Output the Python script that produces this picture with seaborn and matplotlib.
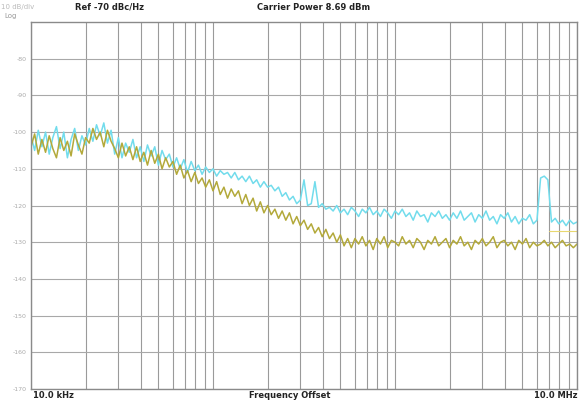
import matplotlib
matplotlib.use("Agg")
import matplotlib.pyplot as plt
import seaborn as sns
import pandas as pd

# ---------------- data ----------------
freq_khz = [
    10.0, 10.47, 10.96, 11.48, 12.02, 12.59, 13.18, 13.80, 14.45, 15.14,
    15.85, 16.60, 17.38, 18.20, 19.05, 19.95, 20.89, 21.88, 22.91, 23.99,
    25.12, 26.30, 27.54, 28.84, 30.20, 31.62, 33.11, 34.67, 36.31, 38.02,
    39.81, 41.69, 43.65, 45.71, 47.86, 50.12, 52.48, 54.95, 57.54, 60.26,
    63.10, 66.07, 69.18, 72.44, 75.86, 79.43, 83.18, 87.10, 91.20, 95.50,
    100.0, 104.7, 109.6, 114.8, 120.2, 125.9, 131.8, 138.0, 144.5, 151.4,
    158.5, 166.0, 173.8, 182.0, 190.5, 199.5, 208.9, 218.8, 229.1, 239.9,
    251.2, 263.0, 275.4, 288.4, 302.0, 316.2, 331.1, 346.7, 363.1, 380.2,
    398.1, 416.9, 436.5, 457.1, 478.6, 501.2, 524.8, 549.5, 575.4, 602.6,
    631.0, 660.7, 691.8, 724.4, 758.6, 794.3, 831.8, 871.0, 912.0, 955.0,
    1000, 1047, 1096, 1148, 1202, 1259, 1318, 1380, 1445, 1514,
    1585, 1660, 1738, 1820, 1905, 1995, 2089, 2188, 2291, 2399,
    2512, 2630, 2754, 2884, 3020, 3162, 3311, 3467, 3631, 3802,
    3981, 4169, 4365, 4571, 4786, 5012, 5248, 5495, 5754, 6026,
    6310, 6607, 6918, 7244, 7586, 7943, 8318, 8710, 9120, 9550,
    10000,
]

trace_cyan = [
    -101, -105, -99.5, -104, -100, -106, -101.5, -98.5, -104.5, -100,
    -107, -102, -99, -105, -101, -103.5, -99, -102.5, -98, -101,
    -97.5, -103, -99.5, -106, -101.5, -107, -103, -105.5, -102, -107,
    -104, -108, -103.5, -106.5, -104, -109, -105, -107.5, -106, -109.5,
    -107, -110, -107.5, -111, -108, -110.5, -109, -111.5, -109.5, -111,
    -110, -112, -110.5, -111.5, -111, -112.5, -111, -113, -112, -113.5,
    -112, -114, -113, -115, -113.5, -115, -114.5, -116, -115, -117.5,
    -116.5, -118.5, -117.5, -119.5, -118.5, -113, -120, -119.5, -113.5, -120.5,
    -119.5, -121, -120.5, -121.5, -120, -122, -121, -122.5, -120.5, -121.5,
    -123, -121, -122, -120.5, -122.5, -121.5, -123, -121, -122, -123.5,
    -121.5, -122.5, -121, -123, -122, -124, -121.5, -123, -122.5, -124.5,
    -122, -123, -121.5, -123.5, -122.5, -124, -122, -123.5, -121.5, -124,
    -123, -122, -124.5, -122.5, -123.5, -121.5, -124, -123, -125, -122.5,
    -123.5, -122, -124.5, -123, -125, -123.5, -124, -122.5, -125, -124,
    -112.5, -112, -113, -124.5, -123.5, -125, -124, -125.5, -124, -125,
    -124.5,
]

trace_olive = [
    -104, -100.5, -106, -102, -105.5, -101, -104.5, -107, -101.5, -105,
    -102.5, -106.5, -100.5, -103.5, -106, -101.5, -103, -99, -102, -100,
    -104, -99.5, -102.5, -104.5, -107, -103, -106.5, -104, -107.5, -104,
    -108, -105.5, -109, -105, -108.5, -106, -110, -107, -109.5, -108,
    -111.5, -109, -112.5, -110.5, -113.5, -111, -114, -112.5, -115, -113,
    -116, -113.5, -117, -115, -118, -115.5, -117.5, -116, -119.5, -117,
    -120, -118, -121.5, -119, -122, -120, -122.5, -121, -123.5, -121.5,
    -124, -122, -125, -123, -125.5, -124, -126.5, -125, -127.5, -126,
    -128.5, -126.5, -129, -127.5, -130, -128, -131, -129, -131.5, -129,
    -130.5, -128.5, -131, -129.5, -132, -129, -130.5, -128.5, -131.5, -129.5,
    -130, -131, -128.5, -130.5, -129.5, -131.5, -129, -130, -132, -129.5,
    -130.5, -128.5, -131, -130, -129, -131.5, -129.5, -130.5, -128.5, -131,
    -130, -132, -129.5, -130.5, -129, -131, -130, -128.5, -131.5, -130,
    -129.5, -131, -130, -132, -129.5, -130.5, -129, -131.5, -130, -131,
    -130.5, -129.5, -131, -130, -131.5, -130.5, -129.5, -131, -130.5, -131.5,
    -130.5,
]

display_line_level = -127
display_line_khz = [7000, 10000]

y_ticks = [-80, -90, -100, -110, -120, -130, -140, -150, -160, -170]
y_min, y_max = -170, -70
x_min, x_max = 10, 10000

df = pd.DataFrame({
    "freq": freq_khz * 2,
    "level": trace_cyan + trace_olive,
    "trace": ["cyan"] * len(freq_khz) + ["olive"] * len(freq_khz),
})

# ---------------- figure ----------------
sns.set_style("white")
plt.rcParams["font.family"] = ["DejaVu Sans"]

W, H = 579, 403
fig = plt.figure(figsize=(W / 100, H / 100), dpi=100)
ax = fig.add_axes([31 / W, 1 - 389 / H, (577 - 31) / W, (389 - 22) / H])

sns.lineplot(data=df, x="freq", y="level", hue="trace",
             palette={"cyan": "#72dcec", "olive": "#b3a93a"},
             linewidth=1.1, ax=ax, legend=False, estimator=None, sort=False)
ax.plot(display_line_khz, [display_line_level] * 2, color="#e8d870", lw=0.8)

ax.set_xscale("log")
ax.set_xlim(x_min, x_max)
ax.set_ylim(y_min, y_max)
ax.set_yticks(y_ticks)
ax.set_yticklabels([str(t) for t in y_ticks], fontsize=4.5, color="#aaaaaa")
ax.tick_params(axis="y", length=0, pad=3)
ax.tick_params(axis="x", which="both", length=0, labelbottom=False)
ax.set_xlabel("")
ax.set_ylabel("")

ax.grid(True, which="both", axis="x", color="#9a9a9a", lw=0.8)
ax.grid(True, which="major", axis="y", color="#a8a8a8", lw=0.8)
ax.set_axisbelow(True)
for s in ax.spines.values():
    s.set_color("#8a8a8a")
    s.set_linewidth(1.0)

def ftext(x, y, s, **kw):
    fig.text(x / W, 1 - y / H, s, va="center", **kw)

ftext(1, 7, "10 dB/div", fontsize=5, color="#bbbbbb")
ftext(4, 16, "Log", fontsize=5, color="#999999")
ftext(75, 7, "Ref -70 dBc/Hz", fontsize=6, color="#222222", fontweight="bold")
ftext(257, 7, "Carrier Power 8.69 dBm", fontsize=6, color="#222222", fontweight="bold")
ftext(33, 396, "10.0 kHz", fontsize=6, color="#222222", fontweight="bold")
ftext(290, 396, "Frequency Offset", fontsize=6, color="#222222",
      fontweight="bold", ha="center")
ftext(577, 396, "10.0 MHz", fontsize=6, color="#222222", fontweight="bold",
      ha="right")

fig.savefig("out.png", dpi=100)
